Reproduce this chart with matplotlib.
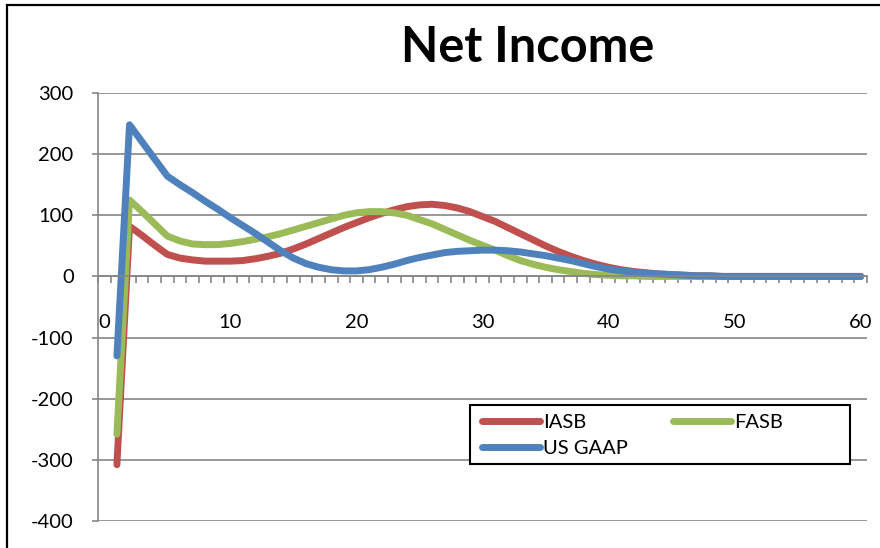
import matplotlib.pyplot as plt
import numpy as np
from matplotlib.patches import Rectangle

periods = np.arange(1, 61)

iasb = [-308, 82, 67, 51, 36, 30, 27, 25, 25, 25,
        26, 29, 33, 38, 45, 53, 62, 71, 80, 88,
        96, 103, 109, 114, 117, 118, 116, 112, 106, 98,
        90, 80, 70, 60, 50, 41, 33, 26, 20, 15,
        11, 8, 6, 4, 3, 2, 1, 1, 0, 0,
        0, 0, 0, 0, 0, 0, 0, 0, 0, 0]

fasb = [-258, 125, 106, 86, 66, 58, 53, 52, 52, 54,
        57, 61, 65, 70, 76, 82, 88, 94, 100, 104,
        106, 106, 104, 100, 93, 86, 77, 68, 59, 51,
        43, 34, 26, 20, 15, 11, 8, 5, 3, 2,
        1, 1, 0, 0, 0, 0, 0, 0, 0, 0,
        0, 0, 0, 0, 0, 0, 0, 0, 0, 0]

us_gaap = [-130, 248, 220, 192, 164, 150, 137, 123, 110, 96,
           83, 70, 56, 42, 30, 21, 15, 11, 9, 9,
           11, 15, 20, 26, 31, 35, 39, 41, 42, 43,
           43, 42, 40, 37, 34, 30, 26, 21, 16, 12,
           9, 7, 5, 4, 3, 2, 1, 1, 0, 0,
           0, 0, 0, 0, 0, 0, 0, 0, 0, 0]

series = [('IASB', iasb, '#C0504D'),
          ('FASB', fasb, '#9BBB59'),
          ('US GAAP', us_gaap, '#4F81BD')]

plt.rcParams['font.family'] = ['Lato', 'DejaVu Sans']
plt.rcParams['axes.unicode_minus'] = False

W, H = 880, 548
fig = plt.figure(figsize=(W / 100, H / 100), dpi=100)

# outer chart border
fig.patches.append(Rectangle((7 / W, -0.1), 1.1, 1.1 - 5 / H, transform=fig.transFigure,
                             fill=False, edgecolor='black', lw=1.6))

ax = fig.add_axes([98 / W, (H - 521) / H, 769 / W, 428 / H])
grey = '#868686'

lines = {}
for name, vals, col in series:
    lines[name], = ax.plot(periods, vals, color=col, lw=5, label=name,
                           solid_capstyle='round', solid_joinstyle='round')

ax.set_xlim(-0.5, 60.5)
ax.set_ylim(-400, 300)
ax.set_yticks(np.arange(-400, 301, 100))
ax.yaxis.grid(True, color=grey, lw=1.2)
ax.set_axisbelow(True)

ax.spines['top'].set_visible(False)
ax.spines['right'].set_visible(False)
ax.spines['bottom'].set_position(('data', 0))
ax.spines['bottom'].set_color(grey)
ax.spines['left'].set_color(grey)
ax.spines['bottom'].set_linewidth(1.2)
ax.spines['left'].set_linewidth(1.2)

ax.set_xticks(np.arange(0, 61, 10))
ax.set_xticks(np.arange(-0.5, 61, 1), minor=True)
ax.tick_params(axis='x', which='major', length=0, pad=27, labelsize=14.5)
ax.tick_params(axis='x', which='minor', length=5, width=1.2, color=grey, direction='out')
ax.tick_params(axis='y', length=4.5, width=1.2, color=grey, pad=13, labelsize=14.5)

fig.text(528 / W, 1 - 48 / H, 'Net Income', fontsize=35, fontweight='bold',
         ha='center', va='center')

# legend box, entries laid out row by row
fig.patches.append(Rectangle((470 / W, 1 - 464 / H), 380 / W, 59 / H, transform=fig.transFigure,
                             facecolor='white', edgecolor='black', lw=1.5, zorder=5))
order = ['IASB', 'US GAAP', 'FASB']
leg = fig.legend([lines[n] for n in order], order, loc='upper left',
                 bbox_to_anchor=(482 / W, 1 - 414 / H), ncol=2,
                 frameon=False, fontsize=14.5, handlelength=2.9, handletextpad=0.15,
                 columnspacing=2.2, labelspacing=0.45, borderpad=0, borderaxespad=0)
leg.set_zorder(6)

fig.savefig('out.png', dpi=100)
